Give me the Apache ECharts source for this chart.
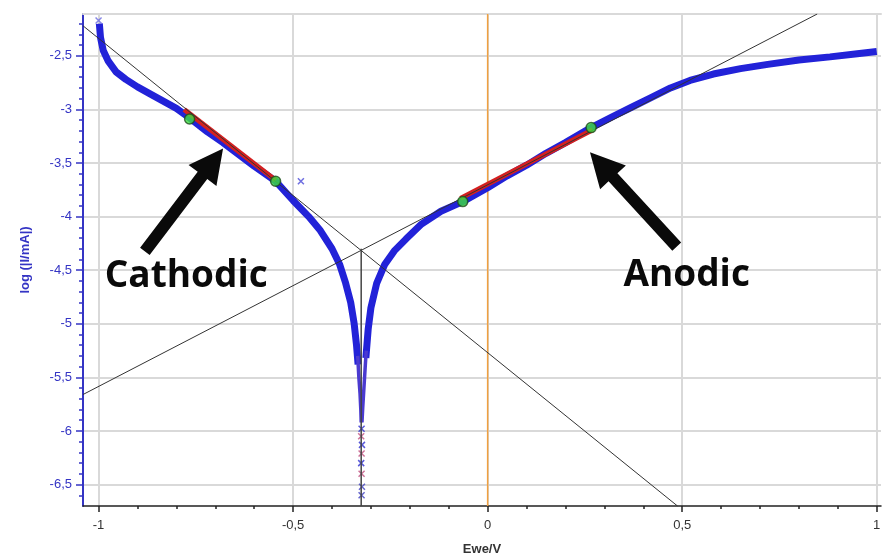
<!DOCTYPE html>
<html>
<head>
<meta charset="utf-8">
<script src="https://cdn.jsdelivr.net/npm/echarts@6/dist/echarts.min.js"></script>
<style>
  html, body { margin: 0; padding: 0; background: #fff; }
  #chart { width: 886px; height: 557px; }
</style>
</head>
<body>
<div id="chart"></div>
<script>
// axis ticks
const xTicks = [-1, -0.5, 0, 0.5, 1];
const xMinorTicks = [-0.9, -0.8, -0.7, -0.6, -0.4, -0.3, -0.2, -0.1, 0.1, 0.2, 0.3, 0.4, 0.6, 0.7, 0.8, 0.9];
const yTicks = [-6.5, -6, -5.5, -5, -4.5, -4, -3.5, -3, -2.5];
const yMinorTicks = [-6.6, -6.4, -6.3, -6.2, -6.1, -5.9, -5.8, -5.7, -5.6, -5.4, -5.3, -5.2, -5.1,
  -4.9, -4.8, -4.7, -4.6, -4.4, -4.3, -4.2, -4.1, -3.9, -3.8, -3.7, -3.6, -3.4, -3.3, -3.2, -3.1,
  -2.9, -2.8, -2.7, -2.6, -2.4, -2.3, -2.2];

// measured curve, cathodic branch (Ewe/V, log|I|)
const cathE = [-0.998, -0.995, -0.988, -0.975, -0.955, -0.93, -0.90, -0.87, -0.835, -0.80, -0.766,
  -0.72, -0.68, -0.64, -0.60, -0.545, -0.50, -0.46, -0.43, -0.40, -0.38, -0.365, -0.352, -0.343,
  -0.337, -0.333];
const cathLogI = [-2.20, -2.33, -2.45, -2.55, -2.65, -2.72, -2.79, -2.85, -2.92, -2.99, -3.08,
  -3.21, -3.31, -3.42, -3.53, -3.67, -3.85, -4.00, -4.13, -4.30, -4.45, -4.62, -4.80, -5.00,
  -5.20, -5.38];
// sparse lower part of the V
const cathTipE = [-0.334, -0.331, -0.328, -0.326, -0.325];
const cathTipLogI = [-5.30, -5.50, -5.65, -5.80, -5.92];
const anodTipE = [-0.323, -0.321, -0.318, -0.315, -0.312];
const anodTipLogI = [-5.92, -5.78, -5.60, -5.42, -5.25];

// measured curve, anodic branch
const anodE = [-0.313, -0.307, -0.300, -0.285, -0.265, -0.24, -0.21, -0.17, -0.12,
  -0.064, 0.0, 0.05, 0.10, 0.15, 0.20, 0.266, 0.32, 0.37, 0.42, 0.47, 0.52, 0.58, 0.65, 0.72,
  0.80, 0.88, 0.95, 1.0];
const anodLogI = [-5.32, -5.05, -4.85, -4.62, -4.45, -4.32, -4.21, -4.07, -3.95,
  -3.86, -3.73, -3.62, -3.52, -3.41, -3.31, -3.17, -3.07, -2.98, -2.89, -2.80, -2.73, -2.67,
  -2.62, -2.58, -2.54, -2.51, -2.48, -2.46];

// loose points at the foot of the V and stray points
const tailE = [-0.324, -0.325, -0.323, -0.324, -0.325, -0.324, -0.323, -0.324, -1.0, -0.48];
const tailLogI = [-5.98, -6.05, -6.13, -6.21, -6.30, -6.40, -6.52, -6.60, -2.17, -3.67];

// fitted regions (red) and fit bounds (green)
const fitCath = [[-0.78, -3.00], [-0.545, -3.66]];
const fitAnod = [[-0.07, -3.83], [0.27, -3.19]];
const boundE = [-0.766, -0.545, -0.064, 0.266];
const boundLogI = [-3.09, -3.67, -3.86, -3.17];

// Tafel lines and Ecorr
const tafelCath = [[-1.04, -2.22], [0.488, -6.70]];
const tafelAnod = [[-1.04, -5.66], [0.847, -2.11]];
const ecorrLine = [[-0.325, -4.30], [-0.325, -6.70]];
const zeroLine = [[0, -6.70], [0, -2.11]];

// annotations: [tailE, tailLogI, tipE, tipLogI]
const arrowCath = [-0.881, -4.324, -0.680, -3.364];
const arrowAnod = [0.486, -4.28, 0.263, -3.40];
const labelCath = [-0.984, -4.56];
const labelAnod = [0.349, -4.545];

const zip = (a, b) => a.map((v, i) => [v, b[i]]);
const fmt = v => String(v).replace('.', ',');

const chart = echarts.init(document.getElementById('chart'));

const blue = '#2222d8';
const axisBlue = '#3434c4';
const gridCol = '#d9d9d9';

const plainLine = (data, color, width, z) => ({
  type: 'line', data, showSymbol: false, silent: true, z,
  lineStyle: { color, width }, itemStyle: { color }
});

const tailColors = ['#3030d0', '#c05080', '#3030d0', '#c05080', '#3030d0', '#c05080', '#4040c0', '#4040c0', '#6a6ae0', '#4a4ad8'];

chart.setOption({
  animation: false,
  grid: { left: 83, right: 5, top: 14, bottom: 51, outerBoundsMode: 'none' },
  xAxis: [
    {
      type: 'value', position: 'bottom', min: -1.04, max: 1.011,
      name: 'Ewe/V', nameLocation: 'middle', nameGap: 37,
      nameTextStyle: { color: '#333', fontWeight: 'bold', fontSize: 13, fontFamily: 'Liberation Sans' },
      axisLine: { onZero: false, lineStyle: { color: '#222', width: 1.5 } },
      axisTick: { customValues: xTicks, length: 6, lineStyle: { color: '#222', width: 1.5 } },
      axisLabel: { customValues: xTicks, formatter: fmt, margin: 13, color: '#333', fontSize: 13, fontFamily: 'Liberation Sans' },
      splitLine: { show: true, lineStyle: { color: gridCol, width: 2 } }
    },
    {
      type: 'value', position: 'bottom', min: -1.04, max: 1.011,
      axisLine: { show: false, onZero: false },
      axisTick: { customValues: xMinorTicks, length: 3, lineStyle: { color: '#222', width: 1.5 } },
      axisLabel: { show: false },
      splitLine: { show: false }
    },
    {
      type: 'value', position: 'top', min: -1.04, max: 1.011,
      axisLine: { onZero: false, lineStyle: { color: gridCol, width: 2 } },
      axisTick: { show: false }, axisLabel: { show: false }, splitLine: { show: false }
    }
  ],
  yAxis: [
    {
      type: 'value', position: 'left', min: -6.70, max: -2.11,
      name: 'log (|I/mA|)', nameLocation: 'middle', nameGap: 51,
      nameTextStyle: { color: axisBlue, fontWeight: 'bold', fontSize: 13, fontFamily: 'Liberation Sans' },
      axisLine: { onZero: false, lineStyle: { color: axisBlue, width: 2 } },
      axisTick: { customValues: yTicks, length: 7, lineStyle: { color: axisBlue, width: 1.5 } },
      axisLabel: { customValues: yTicks, formatter: fmt, margin: 11, color: axisBlue, fontSize: 13, fontFamily: 'Liberation Sans' },
      splitLine: { show: true, lineStyle: { color: gridCol, width: 2 } }
    },
    {
      type: 'value', position: 'left', min: -6.70, max: -2.11,
      axisLine: { show: false, onZero: false },
      axisTick: { customValues: yMinorTicks, length: 4, lineStyle: { color: axisBlue, width: 1.5 } },
      axisLabel: { show: false },
      splitLine: { show: false }
    }
  ],
  series: [
    plainLine(zeroLine, '#f0a040', 1.5, 1),
    plainLine(zip(cathE, cathLogI), blue, 7, 2),
    plainLine(zip(anodE, anodLogI), blue, 7, 2),
    plainLine(zip(cathTipE, cathTipLogI), '#4a3ad0', 3.5, 2),
    plainLine(zip(anodTipE, anodTipLogI), '#4a3ad0', 3.5, 2),
    {
      type: 'scatter', z: 3, silent: true,
      symbol: 'path://M0,0L10,10M10,0L0,10', symbolSize: 6,
      data: zip(tailE, tailLogI).map((p, i) => ({
        value: p, itemStyle: { color: 'none', borderColor: tailColors[i], borderWidth: 1.5 }
      }))
    },
    plainLine(fitCath, '#d42020', 5, 4),
    plainLine(fitAnod, '#d42020', 5, 4),
    plainLine(tafelCath, '#333', 1, 5),
    plainLine(tafelAnod, '#333', 1, 5),
    plainLine(ecorrLine, '#444', 1.5, 5),
    {
      type: 'scatter', z: 6, silent: true,
      data: zip(boundE, boundLogI), symbol: 'circle', symbolSize: 10,
      itemStyle: { color: '#3ee03e', borderColor: '#1d4d1d', borderWidth: 1.5 }
    }
  ]
});

function arrowPoints(tail, tip, shaftW, headW, headL) {
  const dx = tip[0] - tail[0], dy = tip[1] - tail[1];
  const len = Math.hypot(dx, dy);
  const ux = dx / len, uy = dy / len, nx = -uy, ny = ux;
  const bx = tip[0] - ux * headL, by = tip[1] - uy * headL;
  return [
    [tail[0] + nx * shaftW / 2, tail[1] + ny * shaftW / 2],
    [bx + nx * shaftW / 2, by + ny * shaftW / 2],
    [bx + nx * headW / 2, by + ny * headW / 2],
    tip,
    [bx - nx * headW / 2, by - ny * headW / 2],
    [bx - nx * shaftW / 2, by - ny * shaftW / 2],
    [tail[0] - nx * shaftW / 2, tail[1] - ny * shaftW / 2]
  ];
}

const toPx = p => chart.convertToPixel({ xAxisIndex: 0, yAxisIndex: 0 }, p);

function arrowShape(a) {
  return {
    type: 'polygon', z: 20,
    shape: { points: arrowPoints(toPx([a[0], a[1]]), toPx([a[2], a[3]]), 12, 35, 34) },
    style: { fill: '#0a0a0a' }
  };
}

function labelShape(text, pos) {
  const p = toPx(pos);
  return {
    type: 'text', z: 20, x: p[0], y: p[1],
    style: { text, fill: '#0a0a0a', font: 'bold 37px "Open Sans"', align: 'left', verticalAlign: 'middle' }
  };
}

chart.setOption({
  graphic: [
    arrowShape(arrowCath),
    arrowShape(arrowAnod),
    labelShape('Cathodic', labelCath),
    labelShape('Anodic', labelAnod)
  ]
});
</script>
</body>
</html>
